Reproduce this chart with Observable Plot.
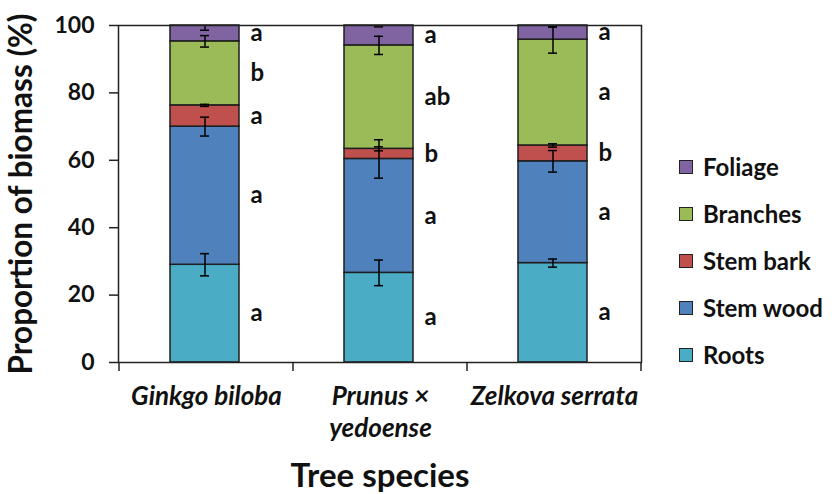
<!DOCTYPE html>
<html><head>
<meta charset="utf-8">
<script src="https://cdn.jsdelivr.net/npm/d3@7"></script>
<script src="https://cdn.jsdelivr.net/npm/@observablehq/plot@0.6"></script>
<style>
body{margin:0;background:#fff;}
#wrap{position:relative;width:832px;height:494px;overflow:hidden;}
#legend{position:absolute;left:679px;top:143px;font:bold 24px Lato, sans-serif;color:#111;}
#legend .item{height:47px;display:flex;align-items:center;}
#legend .sw{width:12px;height:12px;border:1.5px solid #222;margin-right:10px;}
</style></head><body><div id="wrap"></div>
<script>
const species = ["Ginkgo biloba", "Prunus × yedoense", "Zelkova serrata"];
const speciesLabels = ["Ginkgo biloba", "Prunus ×\nyedoense", "Zelkova serrata"];
const components = ["Roots", "Stem wood", "Stem bark", "Branches", "Foliage"];
const colors = ["#4BACC6", "#4F81BD", "#C0504D", "#9BBB59", "#8064A2"];
const legendOrder = ["Foliage", "Branches", "Stem bark", "Stem wood", "Roots"];

const roots     = [29.0, 26.6, 29.5];
const stemWood  = [41.0, 33.8, 30.2];
const stemBark  = [6.3, 3.0, 4.7];
const branches  = [19.0, 30.7, 31.4];
const foliage   = [4.7, 5.9, 4.2];

const rootsSE    = [3.3, 3.8, 1.2];
const stemWoodSE = [2.8, 5.7, 3.2];
const stemBarkSE = [0.3, 0.6, 0.5];
const branchesSE = [1.7, 2.7, 4.0];
const foliageSE  = [1.4, 0.4, 0.5];

const rootsLet    = ["a", "a", "a"];
const stemWoodLet = ["a", "a", "a"];
const stemBarkLet = ["a", "b", "b"];
const branchesLet = ["b", "ab", "a"];
const foliageLet  = ["a", "a", "a"];

const yTicks = [0, 20, 40, 60, 80, 100];

const series = [
  [roots, rootsSE, rootsLet],
  [stemWood, stemWoodSE, stemWoodLet],
  [stemBark, stemBarkSE, stemBarkLet],
  [branches, branchesSE, branchesLet],
  [foliage, foliageSE, foliageLet]
];
const rows = [];
species.forEach((s, i) => {
  let cum = 0;
  series.forEach(([vals, se, lets], k) => {
    const y1 = cum; cum += vals[i];
    rows.push({species: s, component: components[k], y1, y2: cum, se: se[i], letter: lets[i]});
  });
});

const boundaryTicks = (index, scales, values, dimensions) => {
  const x = scales.x;
  const bw = typeof x.bandwidth === "function" ? x.bandwidth() : (scales.scales && scales.scales.x ? scales.scales.x.bandwidth : 0);
  const yb = dimensions.height - dimensions.marginBottom;
  const xs = species.map(s => x(s)).concat([x(species[species.length - 1]) + bw]);
  const g = d3.create("svg:g").attr("stroke", "#222").attr("stroke-width", 1.5);
  xs.forEach(v => g.append("line").attr("x1", v).attr("x2", v).attr("y1", yb).attr("y2", yb + 9));
  return g.node();
};

const fmtX = d => speciesLabels[species.indexOf(d)];

const chart = Plot.plot({
  width: 832,
  height: 494,
  marginLeft: 118,
  marginRight: 191,
  marginTop: 25,
  marginBottom: 132,
  style: {fontFamily: "Lato, sans-serif", color: "#111", background: "#fff"},
  x: {domain: species, padding: 0},
  y: {domain: [0, 100]},
  color: {domain: components, range: colors},
  marks: [
    Plot.barY(rows, {x: "species", y1: "y1", y2: "y2", fill: "component", stroke: "#1e1e1e", strokeWidth: 1.5, insetLeft: 51, insetRight: 54}),
    Plot.ruleX(rows, {x: "species", y1: d => d.y2 - d.se, y2: d => d.y2 + d.se, stroke: "#000", strokeWidth: 1.5, dx: -1.5, clip: true}),
    Plot.tickY(rows, {x: "species", y: d => d.y2 + d.se, stroke: "#000", strokeWidth: 1.5, insetLeft: 81, insetRight: 84, clip: true}),
    Plot.tickY(rows, {x: "species", y: d => d.y2 - d.se, stroke: "#000", strokeWidth: 1.5, insetLeft: 81, insetRight: 84, clip: true}),
    Plot.text(rows, {x: "species", y: d => (d.y1 + d.y2) / 2, text: "letter", textAnchor: "start", dx: 44, fontSize: 24, fontWeight: "bold", fill: "#111"}),
    Plot.frame({stroke: "#222", strokeWidth: 1.5}),
    Plot.axisY({ticks: yTicks, tickSize: 9, tickPadding: 15, label: null, fontSize: 23, fontWeight: "bold", stroke: "#222", strokeWidth: 1.5}),
    Plot.axisY({ticks: [], tickSize: 0, label: "Proportion of biomass (%)", labelAnchor: "center", labelArrow: "none", labelOffset: 109, fontSize: 31.5, fontWeight: "bold"}),
    Plot.axisX({tickSize: 0, tickPadding: 20, tickFormat: fmtX, fontSize: 26, fontWeight: "bold", fontStyle: "italic", lineHeight: 1.23, label: null}),
    Plot.axisX({ticks: [], tickSize: 0, label: "Tree species", labelAnchor: "center", labelArrow: "none", labelOffset: 124, fontSize: 33, fontWeight: "bold"}),
    boundaryTicks
  ]
});
const wrap = document.getElementById("wrap");
wrap.appendChild(chart);

const legend = document.createElement("div");
legend.id = "legend";
legendOrder.forEach(name => {
  const item = document.createElement("div");
  item.className = "item";
  const sw = document.createElement("span");
  sw.className = "sw";
  sw.style.background = colors[components.indexOf(name)];
  const t = document.createElement("span");
  t.textContent = name;
  item.appendChild(sw); item.appendChild(t);
  legend.appendChild(item);
});
wrap.appendChild(legend);
</script>
</body></html>
